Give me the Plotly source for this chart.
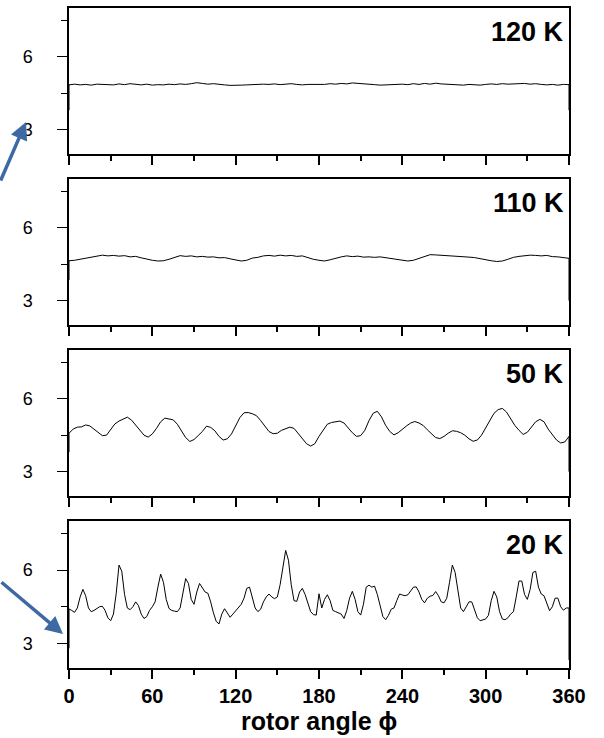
import plotly.graph_objects as go

# ---------------- data ----------------
temperatures = ["120 K", "110 K", "50 K", "20 K"]

phi_120 = list(range(0, 361, 4))
t120 = [4.84, 4.87, 4.84, 4.86, 4.83, 4.87, 4.85, 4.86, 4.84, 4.88,
        4.85, 4.89, 4.86, 4.84, 4.87, 4.83, 4.85, 4.84, 4.87, 4.85,
        4.88, 4.86, 4.89, 4.93, 4.90, 4.87, 4.89, 4.85, 4.84, 4.82,
        4.81, 4.83, 4.84, 4.86, 4.85, 4.87, 4.86, 4.88, 4.85, 4.87,
        4.89, 4.86, 4.84, 4.86, 4.85, 4.87, 4.86, 4.89, 4.87, 4.90,
        4.88, 4.92, 4.91, 4.88, 4.86, 4.85, 4.83, 4.84, 4.82, 4.85,
        4.87, 4.85, 4.89, 4.86, 4.90, 4.87, 4.91, 4.88, 4.86, 4.84,
        4.85, 4.83, 4.86, 4.84, 4.83, 4.86, 4.88, 4.86, 4.89, 4.87,
        4.89, 4.88, 4.90, 4.87, 4.89, 4.86, 4.84, 4.86, 4.83, 4.86,
        4.85]

phi_110 = list(range(0, 361, 4))
t110 = [4.64, 4.66, 4.70, 4.76, 4.80, 4.83, 4.87, 4.84, 4.86, 4.83,
        4.85, 4.80, 4.82, 4.76, 4.70, 4.66, 4.63, 4.64, 4.70, 4.78,
        4.85, 4.82, 4.84, 4.80, 4.82, 4.79, 4.80, 4.76, 4.77, 4.72,
        4.67, 4.63, 4.66, 4.75, 4.78, 4.84, 4.86, 4.83, 4.87, 4.84,
        4.86, 4.82, 4.84, 4.76, 4.70, 4.66, 4.63, 4.68, 4.75, 4.80,
        4.84, 4.81, 4.83, 4.79, 4.80, 4.78, 4.80, 4.76, 4.74, 4.70,
        4.66, 4.63, 4.66, 4.74, 4.82, 4.89, 4.88, 4.86, 4.87, 4.84,
        4.83, 4.80, 4.79, 4.77, 4.72, 4.68, 4.64, 4.61, 4.63, 4.70,
        4.78, 4.82, 4.85, 4.87, 4.86, 4.84, 4.86, 4.81, 4.80, 4.77,
        4.74]

phi_50 = list(range(0, 361, 3))
t50 = [4.58, 4.75, 4.83, 4.84, 4.92, 4.88, 4.75, 4.60, 4.48, 4.50,
       4.75, 4.96, 5.08, 5.15, 5.24, 5.12, 4.92, 4.70, 4.50, 4.42,
       4.55, 4.78, 5.05, 5.20, 5.15, 5.13, 4.95, 4.70, 4.40, 4.24,
       4.32, 4.48, 4.65, 4.87, 4.82, 4.68, 4.45, 4.30, 4.35, 4.55,
       4.90, 5.22, 5.42, 5.43, 5.38, 5.30, 5.10, 4.85, 4.65, 4.56,
       4.58, 4.70, 4.78, 4.83, 4.78, 4.58, 4.35, 4.15, 4.05, 4.15,
       4.45, 4.72, 4.95, 5.02, 5.05, 5.08, 5.00, 4.80, 4.60, 4.45,
       4.48, 4.70, 5.10, 5.40, 5.48, 5.25, 4.90, 4.65, 4.51, 4.60,
       4.75, 4.88, 5.00, 5.06, 5.00, 4.90, 4.72, 4.55, 4.40, 4.36,
       4.45, 4.58, 4.68, 4.66, 4.60, 4.50, 4.35, 4.25, 4.30, 4.50,
       4.80, 5.12, 5.40, 5.55, 5.60, 5.45, 5.15, 4.90, 4.70, 4.53,
       4.62, 4.82, 5.05, 5.15, 5.05, 4.75, 4.50, 4.30, 4.18, 4.22,
       4.45]

phi_20 = list(range(0, 361, 2))
t20 = [4.41, 4.35, 4.27, 4.45, 4.90, 5.21, 4.95, 4.45, 4.30, 4.35,
       4.42, 4.50, 4.52, 4.35, 4.05, 3.93, 4.20, 5.05, 6.20, 5.95,
       5.00, 4.45, 4.38, 4.50, 4.70, 4.55, 4.20, 4.02, 4.10, 4.35,
       4.50, 4.70, 5.30, 5.83, 5.50, 4.80, 4.43, 4.35, 4.32, 4.30,
       4.45, 5.10, 5.65, 5.45, 4.80, 4.60, 5.10, 5.45, 5.30, 5.10,
       5.05, 4.70, 4.25, 3.90, 3.80, 4.20, 4.42, 4.25, 4.07, 4.20,
       4.35, 4.50, 4.60, 4.85, 5.25, 5.30, 4.90, 4.45, 4.30, 4.40,
       4.70, 4.90, 5.02, 4.90, 4.83, 4.90, 5.40, 6.20, 6.80, 6.40,
       5.40, 4.75, 4.72, 5.10, 5.25, 5.00, 4.60, 4.30, 4.18, 4.16,
       5.03, 4.45, 4.80, 4.99, 4.75, 4.35, 4.30, 4.25, 4.20, 4.02,
       4.35, 4.85, 5.13, 4.80, 4.30, 4.16, 4.60, 5.30, 5.38, 5.30,
       5.34, 5.00, 4.50, 4.10, 3.97, 4.15, 4.40, 4.45, 4.75, 5.02,
       4.98, 4.95, 4.99, 5.15, 5.30, 5.31, 5.10, 4.80, 4.66, 4.85,
       4.93, 4.96, 5.12, 4.95, 4.70, 4.66, 4.85, 5.50, 6.20, 5.90,
       5.20, 4.45, 4.30, 4.50, 4.70, 4.70, 4.40, 4.05, 3.93, 3.95,
       4.00, 4.15, 4.75, 5.13, 4.90, 4.30, 4.00, 3.97, 4.05, 4.20,
       4.30, 4.90, 5.55, 5.55, 5.00, 4.80, 5.20, 5.90, 5.95, 5.30,
       5.02, 4.95, 4.60, 4.34, 4.50, 4.85, 4.85, 4.50, 4.36, 4.45,
       4.45]

# values the traces drop to at the two ends (0 and 360 degrees)
start_drop = [3.80, 3.85, 3.80, 2.80]
end_drop = [3.80, 3.00, 3.00, 2.33]

phis = [phi_120, phi_110, phi_50, phi_20]
series = [t120, t110, t50, t20]

x_ticks = [0, 60, 120, 180, 240, 300, 360]
x_minor = [30, 90, 150, 210, 270, 330]
y_ticks = [3, 6]
y_minor = [4.5, 7.5]
x_title = "rotor angle \u03d5"

# ---------------- figure ----------------
W, H = 604, 738
left_px, right_px = 69, 569
panel_px = [(8, 154), (179, 325), (350, 496), (521, 668)]

FONT = "Liberation Sans, Arial, Helvetica, sans-serif"
fig = go.Figure()


def ax_id(letter, n):
    return letter if n == 1 else f"{letter}{n}"


for i in range(4):
    n = i + 1
    xid, yid = ax_id("x", n), ax_id("y", n)
    xs = [phis[i][0]] + phis[i] + [phis[i][-1]]
    ys = [start_drop[i]] + series[i] + [end_drop[i]]
    fig.add_trace(go.Scatter(x=xs, y=ys, mode="lines",
                             line=dict(color="black", width=1),
                             xaxis=xid, yaxis=yid,
                             showlegend=False, hoverinfo="skip"))
    top, bot = panel_px[i]
    dom = [1 - bot / H, 1 - top / H]
    xk = "xaxis" if n == 1 else f"xaxis{n}"
    yk = "yaxis" if n == 1 else f"yaxis{n}"
    fig.layout[xk] = dict(
        domain=[left_px / W, right_px / W], anchor=yid, range=[0, 360],
        showline=True, linecolor="black", linewidth=1.5, mirror=True,
        showgrid=False, zeroline=False, automargin=False,
        tickmode="array", tickvals=x_ticks, ticks="outside", ticklen=9,
        tickwidth=1.5, tickcolor="black",
        minor=dict(tickmode="array", tickvals=x_minor, ticks="outside",
                   ticklen=5, tickwidth=1.5, tickcolor="black"),
        showticklabels=(n == 4),
        tickfont=dict(family=FONT, size=20, color="black", weight="bold"),
        fixedrange=True,
    )
    fig.layout[yk] = dict(
        domain=dom, anchor=xid, range=[2, 8],
        showline=True, linecolor="black", linewidth=1.5, mirror=True,
        showgrid=False, zeroline=False, automargin=False,
        tickmode="array", tickvals=y_ticks, ticktext=[str(v) for v in y_ticks],
        ticks="outside", ticklen=10, tickwidth=1.2, tickcolor="black",
        minor=dict(tickmode="array", tickvals=y_minor, ticks="outside",
                   ticklen=6, tickwidth=1.2, tickcolor="black"),
        tickfont=dict(family=FONT, size=18, color="black"),
        ticklabelstandoff=21,
        fixedrange=True,
    )
    # small mirrored ticks on top and right
    fig.layout[f"xaxis{n + 4}"] = dict(
        overlaying=xid, anchor=yid, side="top", range=[0, 360],
        showline=False, showgrid=False, zeroline=False, automargin=False,
        tickmode="array", tickvals=x_ticks + x_minor, ticks="outside",
        ticklen=3, tickwidth=1, tickcolor="black", showticklabels=False,
        fixedrange=True,
    )
    fig.layout[f"yaxis{n + 4}"] = dict(
        overlaying=yid, anchor=xid, side="right", range=[2, 8],
        showline=False, showgrid=False, zeroline=False, automargin=False,
        tickmode="array", tickvals=y_ticks + y_minor, ticks="outside",
        ticklen=3, tickwidth=1, tickcolor="black", showticklabels=False,
        fixedrange=True,
    )
    fig.add_annotation(text=temperatures[i], xref=f"{xid} domain",
                       yref=f"{yid} domain", x=0.993, y=1 - 24 / (bot - top),
                       xanchor="right", yanchor="middle", showarrow=False,
                       font=dict(family=FONT, size=27, color="black",
                                 weight="bold"))

fig.add_annotation(text=x_title, xref="paper", yref="paper",
                   x=(left_px + right_px) / 2 / W, y=1 - 721 / H,
                   xanchor="center", yanchor="middle", showarrow=False,
                   font=dict(family=FONT, size=25, color="black",
                             weight="bold"))

# blue arrows
arrow_color = "#3d6aa2"
fig.add_annotation(text="", xref="paper", yref="paper",
                   x=26 / W, y=1 - 122 / H, ax=-30, ay=60,
                   showarrow=True, arrowhead=2, arrowsize=1,
                   arrowwidth=3.5, arrowcolor=arrow_color, standoff=0)
fig.add_annotation(text="", xref="paper", yref="paper",
                   x=63 / W, y=1 - 634 / H, ax=-68, ay=-53,
                   showarrow=True, arrowhead=2, arrowsize=1,
                   arrowwidth=3.5, arrowcolor=arrow_color, standoff=0)

fig.update_layout(
    width=W, height=H, autosize=False,
    margin=dict(l=0, r=0, t=0, b=0, autoexpand=False),
    paper_bgcolor="white", plot_bgcolor="white",
    showlegend=False,
)

fig.write_html(
    "out.html",
    config={"responsive": False, "displayModeBar": False},
    post_script=(
        "document.documentElement.style.overflow='hidden';"
        "document.body.style.margin='0px';"
        "document.body.style.padding='0px';"
    ),
)
